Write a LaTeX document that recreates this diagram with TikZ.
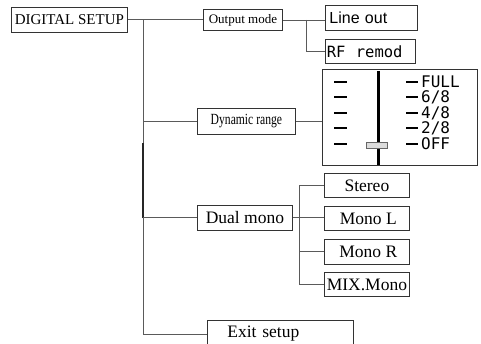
\documentclass[tikz,border=0pt]{standalone}
\usepackage{fontspec}
\setmainfont{Liberation Serif}
\newfontfamily\narrowserif[FakeStretch=0.75]{Liberation Serif}
\newfontfamily\plainsans{Liberation Sans}
\newfontfamily\monosans{DejaVu Sans Mono}
\usepackage{tikz}
\definecolor{linegray}{HTML}{5A5A5A}
\definecolor{knobgray}{HTML}{DCDCDC}

\begin{document}
\begin{tikzpicture}[x=1pt, y=-1pt,
    menubox/.style={draw=black!80, line width=0.8pt, inner sep=0pt, anchor=north west, align=center},
    link/.style={draw=linegray, line width=0.9pt},
    levelmark/.style={line width=2pt, black},
    levellabel/.style={anchor=west, inner sep=0pt, text height=11.7pt, text depth=0pt,
        font=\monosans\fontsize{16}{16}\selectfont}]
            \useasboundingbox (0, 0) rectangle (481, 344);

            \node[menubox, minimum width=116, minimum height=25, font=\fontsize{15}{15}\selectfont] (setup) at (11, 7) {DIGITAL SETUP};
            \node[menubox, minimum width=79, minimum height=21, font=\fontsize{13}{13}\selectfont] (outmode) at (203, 9) {Output mode};
            \node[menubox, text width=84, inner xsep=4, minimum height=25, align=left, font=\plainsans\fontsize{16}{16}\selectfont] (lineout) at (325, 5) {Line out};
            \node[menubox, text width=87, inner xsep=1.5, minimum height=24, align=left, font=\monosans\fontsize{15.5}{15.5}\selectfont] (rfremod) at (325, 39) {RF\ \ remod};

            \node[menubox, minimum width=98, minimum height=26, font=\narrowserif\fontsize{15.5}{15.5}\selectfont] (dynrange) at (197, 108) {Dynamic range};
            \node[menubox, minimum width=155, minimum height=96] (dynbox) at (322, 69) {};

            \node[menubox, minimum width=95, minimum height=25, font=\fontsize{17.5}{17.5}\selectfont] (dualmono) at (197, 205) {Dual mono};
            \node[menubox, minimum width=85, minimum height=24, font=\fontsize{17.5}{17.5}\selectfont] (stereo) at (324, 173) {Stereo};
            \node[menubox, minimum width=85, minimum height=24, font=\fontsize{17.5}{17.5}\selectfont] (monol) at (324, 206) {\,Mono L};
            \node[menubox, minimum width=85, minimum height=25, font=\fontsize{17.5}{17.5}\selectfont] (monor) at (324, 239) {\,Mono R};
            \node[menubox, minimum width=85, minimum height=24, font=\fontsize{17.5}{17.5}\selectfont] (mixmono) at (324, 272) {MIX.Mono};

            \node[menubox, text width=106, inner xsep=20, minimum height=27, align=left, font=\fontsize{17.5}{17.5}\selectfont] (exit) at (207, 320) {Exit setup};

            \coordinate (trunktop) at (143, 20);
            \coordinate (trunkend) at (143, 334);
            \draw[link] (setup.east) -- (outmode.west);
            \draw[link] (trunktop) -- (trunkend);
            \draw[black!85, line width=1.2pt] (143, 143) -- (143, 218);
            \draw[link] (trunktop |- dynrange.west) -- (dynrange.west);
            \draw[link] (trunktop |- dualmono.west) -- (dualmono.west);
            \draw[link] (trunkend) -- (trunkend -| exit.west);

            \coordinate (outbranch) at (306, 20);
            \draw[link] (outmode.east |- outbranch) -- (outbranch -| lineout.west);
            \draw[link] (outbranch) |- (rfremod.west);

            \draw[link] (dynrange.east) -- (dynrange.east -| dynbox.west);

            \draw[link] (dualmono.east) -- (dualmono.east -| monol.west);
            \draw[link] (stereo.west) -- ++(-25, 0) coordinate (dualbranch) |- (mixmono.west);
            \draw[link] (monor.west) -- (monor.west -| dualbranch);

            \draw[black, line width=3pt] (378, 71) -- (378, 165);
            \foreach \lab [count=\i, evaluate=\i as \y using {int(82 + 15.5*(\i - 1))}] in {FULL, 6/8, 4/8, 2/8, OFF} {
                \draw[levelmark] (334, \y) -- (347, \y);
                \draw[levelmark] (406, \y) -- (418, \y);
                \node[levellabel] (level\i) at (421, \y) {\lab};
            }
            \draw[draw=black!60, fill=knobgray, line width=0.6pt] (366, 142) rectangle (387, 148);
        \end{tikzpicture}
\end{document}
